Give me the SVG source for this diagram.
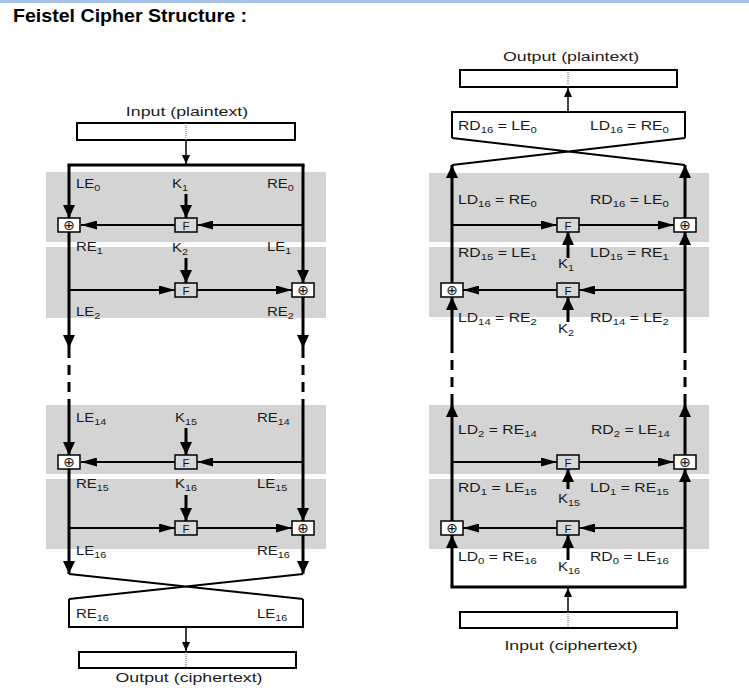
<svg xmlns="http://www.w3.org/2000/svg" width="749" height="694" viewBox="0 0 749 694">
<defs>
<style>
.band{fill:#d4d4d4}
.th{stroke:#000;stroke-width:3;fill:none}
.tn{stroke:#000;stroke-width:2;fill:none}
.sq{stroke-linecap:square}
.dash{stroke-dasharray:10 7}
.box{fill:#fff;stroke:#000;stroke-width:2}
.dot{stroke:#666;stroke-width:1;stroke-dasharray:1 1}
.fb{fill:#d9d9d9;stroke:#000;stroke-width:1.5}
.xb{fill:#fff;stroke:#000;stroke-width:1.5}
.ft{font-family:"Liberation Sans",Arial,sans-serif;font-size:11.5px;fill:#111;text-anchor:middle}
.xt{font-family:"DejaVu Sans",sans-serif;font-size:14px;fill:#111;text-anchor:middle}
.lb{font-family:"Liberation Sans",Arial,sans-serif;font-size:12.5px;fill:#1a1a1a}
.cap{text-anchor:middle}
.sb{font-size:9px}
.av{marker-end:url(#av)}
.ah{marker-end:url(#ah)}
.as{marker-end:url(#as)}
</style>
<marker id="av" viewBox="0 0 13 12" markerWidth="13" markerHeight="12" refX="13" refY="6" orient="auto" markerUnits="userSpaceOnUse"><path d="M0,0 L13,6 L0,12 Z" fill="#000"/></marker>
<marker id="ah" viewBox="0 0 16 9" markerWidth="16" markerHeight="9" refX="16" refY="4.5" orient="auto" markerUnits="userSpaceOnUse"><path d="M0,0 L16,4.5 L0,9 Z" fill="#000"/></marker>
<marker id="as" viewBox="0 0 9 8" markerWidth="9" markerHeight="8" refX="9" refY="4" orient="auto" markerUnits="userSpaceOnUse"><path d="M0,0 L9,4 L0,8 Z" fill="#000"/></marker>
</defs>
<rect width="749" height="694" fill="#fff"/>
<rect x="0" y="0" width="749" height="3" fill="#a6c2e8"/>
<text x="13" y="22" font-family="'Liberation Sans',Arial,sans-serif" font-weight="bold" font-size="19" textLength="234" lengthAdjust="spacingAndGlyphs" fill="#000">Feistel Cipher Structure :</text>

<g id="bands">
<rect class="band" x="46" y="172" width="280" height="70"/>
<rect class="band" x="46" y="247" width="280" height="71"/>
<rect class="band" x="46" y="405" width="280" height="69"/>
<rect class="band" x="46" y="479" width="280" height="70"/>
<rect class="band" x="429" y="173" width="280" height="69"/>
<rect class="band" x="429" y="247" width="280" height="70"/>
<rect class="band" x="429" y="405" width="280" height="69"/>
<rect class="band" x="429" y="479" width="280" height="70"/>
</g>

<g id="connectors">
<!-- encryption -->
<path class="tn as" style="stroke-width:1.5" d="M186,140 V164"/>
<path class="th sq" d="M69,165 H303"/>
<path class="th av" d="M69,165 V218"/>
<path class="th av" d="M69,232 V348"/>
<path class="th dash" d="M69,348 V403"/>
<path class="th av" d="M69,403 V455"/>
<path class="th av" d="M69,469 V574"/>
<path class="th av" d="M303,165 V283"/>
<path class="th av" d="M303,297 V348"/>
<path class="th dash" d="M303,348 V403"/>
<path class="th av" d="M303,403 V521"/>
<path class="th av" d="M303,535 V574"/>
<path class="tn ah" d="M303,225 H197"/>
<path class="tn ah" d="M175,225 H81"/>
<path class="tn ah" d="M69,290 H175"/>
<path class="tn ah" d="M197,290 H292"/>
<path class="tn ah" d="M303,462 H197"/>
<path class="tn ah" d="M175,462 H81"/>
<path class="tn ah" d="M69,528 H175"/>
<path class="tn ah" d="M197,528 H292"/>
<path class="th av" d="M186,194 V218"/>
<path class="th av" d="M186,258 V283"/>
<path class="th av" d="M186,428 V455"/>
<path class="th av" d="M186,495 V521"/>
<path class="tn" d="M69,574 L303,599 M303,574 L69,599"/>
<path class="tn" d="M69,599 V627 H303 V599"/>
<path class="tn as" style="stroke-width:1.5" d="M186,627 V651"/>
<!-- decryption -->
<path class="tn as" style="stroke-width:1.5" d="M568,612 V588"/>
<path class="th sq" d="M452,587 H685"/>
<path class="th av" d="M452,587 V535"/>
<path class="th av" d="M452,521 V404"/>
<path class="th dash" d="M452,404 V348"/>
<path class="th av" d="M452,348 V297"/>
<path class="th av" d="M452,283 V165"/>
<path class="th av" d="M685,587 V469"/>
<path class="th av" d="M685,455 V404"/>
<path class="th dash" d="M685,404 V348"/>
<path class="th av" d="M685,348 V232"/>
<path class="th av" d="M685,218 V165"/>
<path class="tn ah" d="M452,225 H557"/>
<path class="tn ah" d="M579,225 H674"/>
<path class="tn ah" d="M685,290 H579"/>
<path class="tn ah" d="M557,290 H463"/>
<path class="tn ah" d="M452,462 H557"/>
<path class="tn ah" d="M579,462 H674"/>
<path class="tn ah" d="M685,528 H579"/>
<path class="tn ah" d="M557,528 H463"/>
<path class="th av" d="M568,258 V232"/>
<path class="th av" d="M568,322 V297"/>
<path class="th av" d="M568,489 V469"/>
<path class="th av" d="M568,560 V535"/>
<path class="tn" d="M452,165 L685,138 M685,165 L452,138"/>
<path class="tn" d="M452,138 V112 H685 V138"/>
<path class="tn as" style="stroke-width:1.5" d="M568,112 V88"/>
</g>

<g id="enc-input">
<text class="lb cap" transform="translate(187 116) scale(1.42 1)">Input (plaintext)</text>
<rect class="box" x="77" y="123" width="218" height="17"/>
<path class="dot" d="M186,123 V140"/>
</g>
<g id="enc-output">
<rect class="box" x="79" y="652" width="217" height="16"/>
<path class="dot" d="M186,652 V668"/>
<text class="lb cap" transform="translate(189 682) scale(1.42 1)">Output (ciphertext)</text>
</g>
<g id="dec-output">
<text class="lb cap" transform="translate(571 61) scale(1.42 1)">Output (plaintext)</text>
<rect class="box" x="460" y="70" width="217" height="17"/>
<path class="dot" d="M568,70 V87"/>
</g>
<g id="dec-input">
<rect class="box" x="460" y="612" width="217" height="16"/>
<path class="dot" d="M568,612 V628"/>
<text class="lb cap" transform="translate(571 650) scale(1.42 1)">Input (ciphertext)</text>
</g>

<g id="enc-f1"><rect class="fb" x="175" y="218" width="22" height="14"/><text class="ft" x="186" y="229.5">F</text></g>
<g id="enc-f2"><rect class="fb" x="175" y="283" width="22" height="14"/><text class="ft" x="186" y="294.5">F</text></g>
<g id="enc-f15"><rect class="fb" x="175" y="455" width="22" height="14"/><text class="ft" x="186" y="466.5">F</text></g>
<g id="enc-f16"><rect class="fb" x="175" y="521" width="22" height="14"/><text class="ft" x="186" y="532.5">F</text></g>
<g id="enc-x1"><rect class="xb" x="58" y="218" width="22" height="14"/><text class="xt" x="69" y="230">⊕</text></g>
<g id="enc-x2"><rect class="xb" x="292" y="283" width="22" height="14"/><text class="xt" x="303" y="295">⊕</text></g>
<g id="enc-x15"><rect class="xb" x="58" y="455" width="22" height="14"/><text class="xt" x="69" y="467">⊕</text></g>
<g id="enc-x16"><rect class="xb" x="292" y="521" width="22" height="14"/><text class="xt" x="303" y="533">⊕</text></g>

<g id="dec-f1"><rect class="fb" x="557" y="218" width="22" height="14"/><text class="ft" x="568" y="229.5">F</text></g>
<g id="dec-f2"><rect class="fb" x="557" y="283" width="22" height="14"/><text class="ft" x="568" y="294.5">F</text></g>
<g id="dec-f15"><rect class="fb" x="557" y="455" width="22" height="14"/><text class="ft" x="568" y="466.5">F</text></g>
<g id="dec-f16"><rect class="fb" x="557" y="521" width="22" height="14"/><text class="ft" x="568" y="532.5">F</text></g>
<g id="dec-x1"><rect class="xb" x="674" y="218" width="22" height="14"/><text class="xt" x="685" y="230">⊕</text></g>
<g id="dec-x2"><rect class="xb" x="441" y="283" width="22" height="14"/><text class="xt" x="452" y="295">⊕</text></g>
<g id="dec-x15"><rect class="xb" x="674" y="455" width="22" height="14"/><text class="xt" x="685" y="467">⊕</text></g>
<g id="dec-x16"><rect class="xb" x="441" y="521" width="22" height="14"/><text class="xt" x="452" y="533">⊕</text></g>

<g id="enc-labels">
<text class="lb" transform="translate(76 188) scale(1.2 1)">LE<tspan class="sb" dy="3">0</tspan></text>
<text class="lb" transform="translate(172 188) scale(1.2 1)">K<tspan class="sb" dy="3">1</tspan></text>
<text class="lb" transform="translate(267 188) scale(1.2 1)">RE<tspan class="sb" dy="3">0</tspan></text>
<text class="lb" transform="translate(76 251) scale(1.2 1)">RE<tspan class="sb" dy="3">1</tspan></text>
<text class="lb" transform="translate(172 252) scale(1.2 1)">K<tspan class="sb" dy="3">2</tspan></text>
<text class="lb" transform="translate(267 251) scale(1.2 1)">LE<tspan class="sb" dy="3">1</tspan></text>
<text class="lb" transform="translate(76 316) scale(1.2 1)">LE<tspan class="sb" dy="3">2</tspan></text>
<text class="lb" transform="translate(267 316) scale(1.2 1)">RE<tspan class="sb" dy="3">2</tspan></text>
<text class="lb" transform="translate(76 422) scale(1.2 1)">LE<tspan class="sb" dy="3">14</tspan></text>
<text class="lb" transform="translate(175 422) scale(1.2 1)">K<tspan class="sb" dy="3">15</tspan></text>
<text class="lb" transform="translate(257 422) scale(1.2 1)">RE<tspan class="sb" dy="3">14</tspan></text>
<text class="lb" transform="translate(76 488) scale(1.2 1)">RE<tspan class="sb" dy="3">15</tspan></text>
<text class="lb" transform="translate(175 488) scale(1.2 1)">K<tspan class="sb" dy="3">16</tspan></text>
<text class="lb" transform="translate(257 488) scale(1.2 1)">LE<tspan class="sb" dy="3">15</tspan></text>
<text class="lb" transform="translate(76 555) scale(1.2 1)">LE<tspan class="sb" dy="3">16</tspan></text>
<text class="lb" transform="translate(257 555) scale(1.2 1)">RE<tspan class="sb" dy="3">16</tspan></text>
<text class="lb" transform="translate(76 618) scale(1.2 1)">RE<tspan class="sb" dy="3">16</tspan></text>
<text class="lb" transform="translate(257 618) scale(1.2 1)">LE<tspan class="sb" dy="3">16</tspan></text>
</g>

<g id="dec-labels">
<text class="lb" transform="translate(458 130) scale(1.26 1)">RD<tspan class="sb" dy="3">16</tspan><tspan dy="-3"> = LE</tspan><tspan class="sb" dy="3">0</tspan></text>
<text class="lb" transform="translate(590 130) scale(1.26 1)">LD<tspan class="sb" dy="3">16</tspan><tspan dy="-3"> = RE</tspan><tspan class="sb" dy="3">0</tspan></text>
<text class="lb" transform="translate(458 204) scale(1.26 1)">LD<tspan class="sb" dy="3">16</tspan><tspan dy="-3"> = RE</tspan><tspan class="sb" dy="3">0</tspan></text>
<text class="lb" transform="translate(590 204) scale(1.26 1)">RD<tspan class="sb" dy="3">16</tspan><tspan dy="-3"> = LE</tspan><tspan class="sb" dy="3">0</tspan></text>
<text class="lb" transform="translate(458 257) scale(1.26 1)">RD<tspan class="sb" dy="3">15</tspan><tspan dy="-3"> = LE</tspan><tspan class="sb" dy="3">1</tspan></text>
<text class="lb" transform="translate(590 257) scale(1.26 1)">LD<tspan class="sb" dy="3">15</tspan><tspan dy="-3"> = RE</tspan><tspan class="sb" dy="3">1</tspan></text>
<text class="lb" transform="translate(558 268) scale(1.2 1)">K<tspan class="sb" dy="3">1</tspan></text>
<text class="lb" transform="translate(458 322) scale(1.26 1)">LD<tspan class="sb" dy="3">14</tspan><tspan dy="-3"> = RE</tspan><tspan class="sb" dy="3">2</tspan></text>
<text class="lb" transform="translate(590 322) scale(1.26 1)">RD<tspan class="sb" dy="3">14</tspan><tspan dy="-3"> = LE</tspan><tspan class="sb" dy="3">2</tspan></text>
<text class="lb" transform="translate(558 333) scale(1.2 1)">K<tspan class="sb" dy="3">2</tspan></text>
<text class="lb" transform="translate(458 434) scale(1.26 1)">LD<tspan class="sb" dy="3">2</tspan><tspan dy="-3"> = RE</tspan><tspan class="sb" dy="3">14</tspan></text>
<text class="lb" transform="translate(591 434) scale(1.26 1)">RD<tspan class="sb" dy="3">2</tspan><tspan dy="-3"> = LE</tspan><tspan class="sb" dy="3">14</tspan></text>
<text class="lb" transform="translate(458 492) scale(1.26 1)">RD<tspan class="sb" dy="3">1</tspan><tspan dy="-3"> = LE</tspan><tspan class="sb" dy="3">15</tspan></text>
<text class="lb" transform="translate(590 492) scale(1.26 1)">LD<tspan class="sb" dy="3">1</tspan><tspan dy="-3"> = RE</tspan><tspan class="sb" dy="3">15</tspan></text>
<text class="lb" transform="translate(558 503) scale(1.2 1)">K<tspan class="sb" dy="3">15</tspan></text>
<text class="lb" transform="translate(458 561) scale(1.26 1)">LD<tspan class="sb" dy="3">0</tspan><tspan dy="-3"> = RE</tspan><tspan class="sb" dy="3">16</tspan></text>
<text class="lb" transform="translate(590 561) scale(1.26 1)">RD<tspan class="sb" dy="3">0</tspan><tspan dy="-3"> = LE</tspan><tspan class="sb" dy="3">16</tspan></text>
<text class="lb" transform="translate(558 571) scale(1.2 1)">K<tspan class="sb" dy="3">16</tspan></text>
</g>
</svg>
